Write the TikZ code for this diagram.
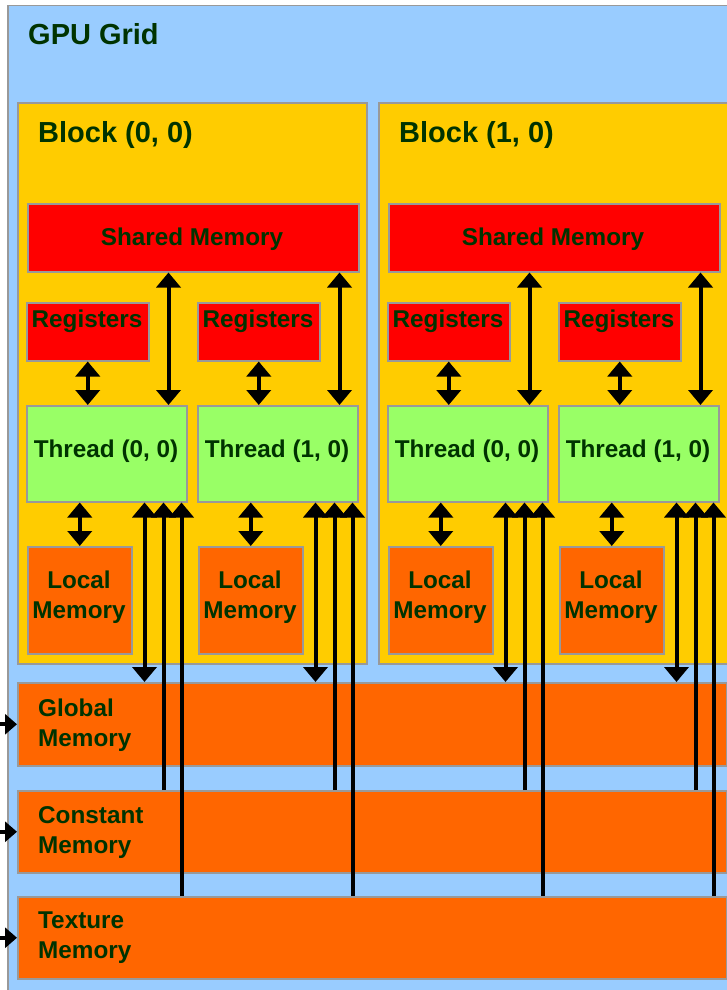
\documentclass[tikz,border=0pt]{standalone}
\usepackage{fontspec}
\setmainfont{Liberation Sans}
\usetikzlibrary{arrows.meta}
\definecolor{gridblue}{HTML}{99CCFF}
\definecolor{blockyellow}{HTML}{FFCC00}
\definecolor{memred}{HTML}{FF0000}
\definecolor{thgreen}{HTML}{99FF66}
\definecolor{memorange}{HTML}{FF6600}
\definecolor{txtgreen}{HTML}{003300}
\definecolor{bordergray}{HTML}{999999}
\tikzset{
  gbox/.style={draw=bordergray, line width=1.5pt, inner sep=0pt, anchor=north west},
  txt/.style={text=txtgreen, font=\bfseries\fontsize{24.3}{30}\selectfont, inner sep=0pt},
  bigtxt/.style={text=txtgreen, font=\bfseries\fontsize{29}{34}\selectfont, inner sep=0pt, anchor=base west},
  tipT/.tip={Triangle[width=24pt,length=15pt]},
  arr2/.style={line width=4pt, tipT-tipT},
  arrup/.style={line width=4pt, -tipT},
  arrin/.style={line width=4pt, -{Triangle[width=20pt,length=12pt]}},
}
\begin{document}
\begin{tikzpicture}[x=1pt,y=-1pt]
\useasboundingbox (0,0) rectangle (727,990);
% grid
\node[gbox, fill=gridblue, minimum width=760pt, minimum height=1020pt] (grid) at (7,5) {};
\node[bigtxt] (gridtitle) at (28,45) {GPU Grid};
% blocks
\foreach \b/\o in {0/0,1/361}{
  \node[gbox, fill=blockyellow, minimum width=349pt, minimum height=561pt] (blk\b) at (17+\o,102) {};
  \node[bigtxt] (blktitle\b) at (38+\o,142) {Block (\b, 0)};
  \node[gbox, fill=memred, minimum width=331pt, minimum height=68pt] (sm\b) at (27+\o,203) {};
  \node[txt, anchor=base] (smt\b) at (192+\o,245) {Shared Memory};
  \foreach \t in {0,1}{
    \pgfmathsetmacro{\xo}{\o+171*\t}
    \node[gbox, fill=memred, minimum width=122pt, minimum height=58pt] (reg\b\t) at (26+\xo,302) {};
    \node[txt, anchor=base] (regt\b\t) at (87+\xo,327) {Registers};
    \node[gbox, fill=thgreen, minimum width=160pt, minimum height=96pt] (th\b\t) at (26+\xo,405) {};
    \node[txt, anchor=base] (tht\b\t) at (106+\xo,457) {Thread (\t, 0)};
    \node[gbox, fill=memorange, minimum width=104pt, minimum height=107pt] (lm\b\t) at (27+\xo,546) {};
    \node[txt, anchor=base] (lmt\b\t) at (79+\xo,588) {Local};
    \node[txt, anchor=base] (lmu\b\t) at (79+\xo,618) {Memory};
  }
}
% memories
\node[gbox, fill=memorange, minimum width=709pt, minimum height=83pt] (glob) at (17,682) {};
\node[gbox, fill=memorange, minimum width=709pt, minimum height=82pt] (const) at (17,790) {};
\node[gbox, fill=memorange, minimum width=709pt, minimum height=82pt] (tex) at (17,896) {};
\node[txt, anchor=base west] (globt1) at (38,716) {Global};
\node[txt, anchor=base west] (globt2) at (38,746) {Memory};
\node[txt, anchor=base west] (constt1) at (38,823) {Constant};
\node[txt, anchor=base west] (constt2) at (38,853) {Memory};
\node[txt, anchor=base west] (text1) at (38,928) {Texture};
\node[txt, anchor=base west] (text2) at (38,958) {Memory};
% arrows
\foreach \b in {0,1}{
  \foreach \t in {0,1}{
    \draw[arr2] (reg\b\t.south) -- (reg\b\t.south |- th\b\t.north);
    \draw[arr2] ([xshift=-19pt]th\b\t.north east) -- ([xshift=-19pt]th\b\t.north east |- sm\b.south);
    \draw[arr2] (lm\b\t.north |- th\b\t.south) -- (lm\b\t.north);
    \draw[arr2] ([xshift=-43pt]th\b\t.south east) -- ([xshift=-43pt]th\b\t.south east |- glob.north);
    \draw[arrup] ([xshift=-24pt]th\b\t.south east |- const.north) -- ([xshift=-24pt]th\b\t.south east);
    \draw[arrup] ([xshift=-6pt]th\b\t.south east |- tex.north) -- ([xshift=-6pt]th\b\t.south east);
  }
}
\coordinate (gin) at (-12,0);
\draw[arrin] (gin |- glob.west) -- (glob.west);
\draw[arrin] (gin |- const.west) -- (const.west);
\draw[arrin] (gin |- tex.west) -- (tex.west);
\end{tikzpicture}
\end{document}
